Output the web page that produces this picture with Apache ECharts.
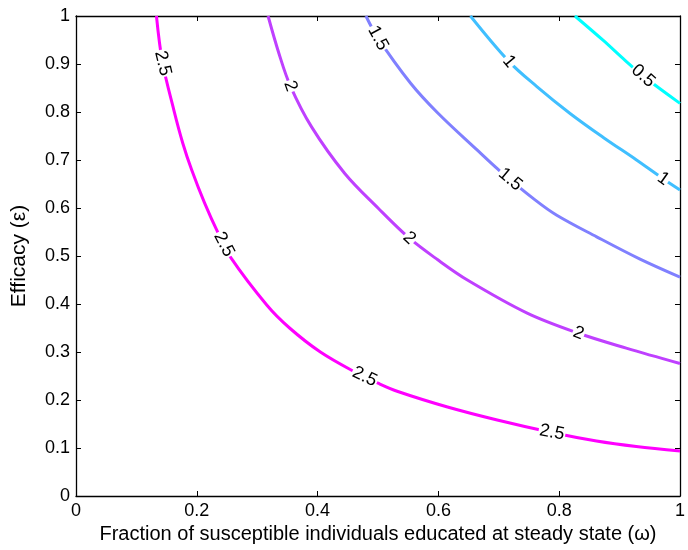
<!DOCTYPE html>
<html>
<head>
<meta charset="utf-8">
<script src="https://cdn.jsdelivr.net/npm/echarts@6/dist/echarts.min.js"></script>
<style>
html,body{margin:0;padding:0;background:#fff;}
#chart{width:688px;height:550px;}
</style>
</head>
<body>
<div id="chart"></div>
<script>
// Contour levels and colours
var levels = ['0.5', '1', '1.5', '2', '2.5'];
var levelColors = ['#00ffff', '#40bfff', '#8080ff', '#bf40ff', '#ff00ff'];

// Curve points (omega, epsilon) for each level
var omega05 = [0.826, 0.873, 0.906, 0.939, 1.0];
var eps05   = [1.0, 0.949, 0.911, 0.875, 0.818];

var omega1 = [0.653, 0.717, 0.763, 0.818, 0.873, 0.928, 0.972, 1.0];
var eps1   = [1.0, 0.905, 0.853, 0.797, 0.747, 0.7, 0.661, 0.6375];

var omega15 = [0.480, 0.5, 0.554, 0.599, 0.664, 0.702, 0.760, 0.796, 0.862, 0.933, 1.0];
var eps15   = [1.0, 0.954, 0.860, 0.798, 0.721, 0.677, 0.617, 0.585, 0.540, 0.494, 0.456];

var omega2 = [0.318, 0.336, 0.355, 0.390, 0.445, 0.5, 0.552, 0.599, 0.648, 0.747, 0.832, 0.911, 1.0];
var eps2   = [1.0, 0.922, 0.854, 0.769, 0.672, 0.6, 0.537, 0.492, 0.45, 0.381, 0.339, 0.308, 0.276];

var omega25 = [0.1332, 0.1431, 0.162, 0.1768, 0.1916, 0.213, 0.2352, 0.2566, 0.3158, 0.3536, 0.4046, 0.4622, 0.5, 0.5329, 0.6151, 0.6974, 0.7878, 0.8618, 0.9276, 1.0];
var eps25   = [1.0, 0.904, 0.804, 0.735, 0.679, 0.610, 0.548, 0.496, 0.398, 0.35, 0.3, 0.258, 0.235, 0.2177, 0.1854, 0.1583, 0.1323, 0.1146, 0.1031, 0.0938];

// Where the in-line labels sit (omega positions along each curve)
var labelOmega05 = [0.939];
var labelOmega1  = [0.717, 0.972];
var labelOmega15 = [0.5, 0.719];
var labelOmega2  = [0.355, 0.552, 0.832];
var labelOmega25 = [0.1436, 0.245, 0.478, 0.788];

// Tick settings
var xTickStep = 0.2;
var yTickStep = 0.1;

var curvesOmega = [omega05, omega1, omega15, omega2, omega25];
var curvesEps = [eps05, eps1, eps15, eps2, eps25];
var labelOmegas = [labelOmega05, labelOmega1, labelOmega15, labelOmega2, labelOmega25];

function pairs(xs, ys) { return xs.map(function (x, i) { return [x, ys[i]]; }); }
function interpAt(li, w) {
  var xs = curvesOmega[li], ys = curvesEps[li];
  for (var i = 0; i < xs.length - 1; i++) {
    if (w >= xs[i] && w <= xs[i + 1]) {
      var t = (w - xs[i]) / (xs[i + 1] - xs[i]);
      return { e: ys[i] + t * (ys[i + 1] - ys[i]), i: i };
    }
  }
  return { e: ys[ys.length - 1], i: xs.length - 2 };
}

var labelData = [];
labelOmegas.forEach(function (arr, li) {
  arr.forEach(function (w) { labelData.push([w, interpAt(li, w).e, li]); });
});

var FONT = '"Liberation Sans", Arial, Helvetica, sans-serif';
function fmt(v) { return String(parseFloat(v.toFixed(2))); }

var series = levels.map(function (lv, li) {
  return {
    type: 'line',
    name: lv,
    data: pairs(curvesOmega[li], curvesEps[li]),
    smooth: 0.35,
    showSymbol: false,
    symbol: 'none',
    lineStyle: { color: levelColors[li], width: 3 },
    z: 2,
    silent: true,
    animation: false
  };
});

series.push({
  type: 'custom',
  data: labelData,
  z: 5,
  silent: true,
  animation: false,
  renderItem: function (params, api) {
    var w = api.value(0), e = api.value(1), li = api.value(2);
    var p = api.coord([w, e]);
    var seg = interpAt(li, w).i;
    var xs = curvesOmega[li], ys = curvesEps[li];
    var p1 = api.coord([xs[seg], ys[seg]]);
    var p2 = api.coord([xs[seg + 1], ys[seg + 1]]);
    var ang = Math.atan2(p2[1] - p1[1], p2[0] - p1[0]);
    return {
      type: 'text',
      x: p[0],
      y: p[1],
      rotation: -ang,
      style: {
        text: levels[li],
        x: 0,
        y: 0,
        align: 'center',
        verticalAlign: 'middle',
        font: '18px ' + FONT,
        fill: '#000',
        backgroundColor: '#fff',
        padding: [0, 1]
      }
    };
  }
});

var axisLineStyle = { show: true, onZero: false, lineStyle: { color: '#000', width: 1.3 } };
var tickStyle = { show: true, inside: true, length: 5, lineStyle: { color: '#000', width: 1 } };

var option = {
  backgroundColor: '#fff',
  animation: false,
  grid: { left: 76, right: 4, top: 16, bottom: 54, containLabel: false },
  xAxis: [
    {
      type: 'value', min: 0, max: 1, interval: xTickStep, position: 'bottom',
      axisLine: axisLineStyle, axisTick: tickStyle, splitLine: { show: false },
      axisLabel: { color: '#000', fontSize: 18, fontFamily: FONT, margin: 6, formatter: fmt },
      name: 'Fraction of susceptible individuals educated at steady state (\u03c9)',
      nameLocation: 'middle', nameGap: 25,
      nameTextStyle: { color: '#000', fontSize: 20, fontFamily: FONT }
    },
    {
      type: 'value', min: 0, max: 1, interval: xTickStep, position: 'top',
      axisLine: axisLineStyle, axisTick: tickStyle, splitLine: { show: false },
      axisLabel: { show: false }
    }
  ],
  yAxis: [
    {
      type: 'value', min: 0, max: 1, interval: yTickStep, position: 'left',
      axisLine: axisLineStyle, axisTick: tickStyle, splitLine: { show: false },
      axisLabel: { color: '#000', fontSize: 18, fontFamily: FONT, margin: 6, formatter: fmt },
      name: 'Efficacy (\u03b5)', nameLocation: 'middle', nameGap: 46, nameRotate: 90,
      nameTextStyle: { color: '#000', fontSize: 21, fontFamily: FONT }
    },
    {
      type: 'value', min: 0, max: 1, interval: yTickStep, position: 'right',
      axisLine: axisLineStyle, axisTick: tickStyle, splitLine: { show: false },
      axisLabel: { show: false }
    }
  ],
  series: series
};

var chart = echarts.init(document.getElementById('chart'), null, { renderer: 'canvas' });
chart.setOption(option);
</script>
</body>
</html>
